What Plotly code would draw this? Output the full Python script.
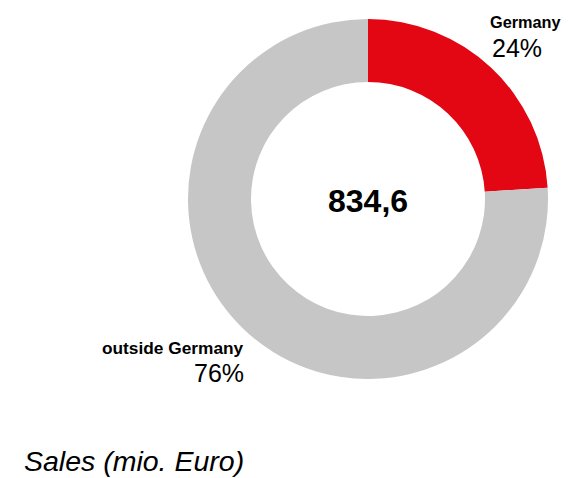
import plotly.graph_objects as go

# page body has an 8px default margin; compensate so the picture lines up
OFF = 8
W, H = 570 - OFF, 478 - OFF

labels = ["Germany", "outside Germany"]
shares = [24, 76]
total_text = "834,6"
colors = ["#E30613", "#C6C6C6"]
caption = "Sales (mio. Euro)"

FONT = "Liberation Sans, Arial, sans-serif"

def py(y):
    return 1 - (y - OFF) / H

def px(x):
    return (x - OFF) / W

fig = go.Figure(go.Pie(
    labels=labels,
    values=shares,
    hole=0.65,
    sort=False,
    direction="clockwise",
    rotation=0,
    marker=dict(colors=colors, line=dict(width=0)),
    textinfo="none",
    hoverinfo="label+percent",
    domain=dict(x=[px(188), px(548)], y=[py(379), py(19)]),
    showlegend=False,
))

ann = []
ann.append(dict(text="<b>%s</b>" % total_text, x=px(368), y=py(201), xref="paper", yref="paper",
                showarrow=False, font=dict(family=FONT, size=32, color="#000000"),
                xanchor="center", yanchor="middle"))
ann.append(dict(text="<b>%s</b>" % labels[0], x=px(489), y=py(22), xref="paper", yref="paper",
                showarrow=False, font=dict(family=FONT, size=16.3, color="#000000"),
                xanchor="left", yanchor="middle", borderpad=0))
ann.append(dict(text="%d%%" % shares[0], x=px(490), y=py(48), xref="paper", yref="paper",
                showarrow=False, font=dict(family=FONT, size=25, color="#000000"),
                xanchor="left", yanchor="middle"))
ann.append(dict(text="<b>%s</b>" % labels[1], x=px(246), y=py(348), xref="paper", yref="paper",
                showarrow=False, font=dict(family=FONT, size=17.3, color="#000000"),
                xanchor="right", yanchor="middle"))
ann.append(dict(text="%d%%" % shares[1], x=px(246), y=py(373), xref="paper", yref="paper",
                showarrow=False, font=dict(family=FONT, size=25, color="#000000"),
                xanchor="right", yanchor="middle"))
ann.append(dict(text="<i>%s</i>" % caption, x=px(23), y=py(478), xref="paper", yref="paper",
                showarrow=False, font=dict(family=FONT, size=28.5, color="#000000"),
                xanchor="left", yanchor="bottom", borderpad=0))

fig.update_layout(
    width=W, height=H,
    margin=dict(l=0, r=0, t=0, b=0),
    paper_bgcolor="white", plot_bgcolor="white",
    annotations=ann,
)

fig.write_html("out.html")
